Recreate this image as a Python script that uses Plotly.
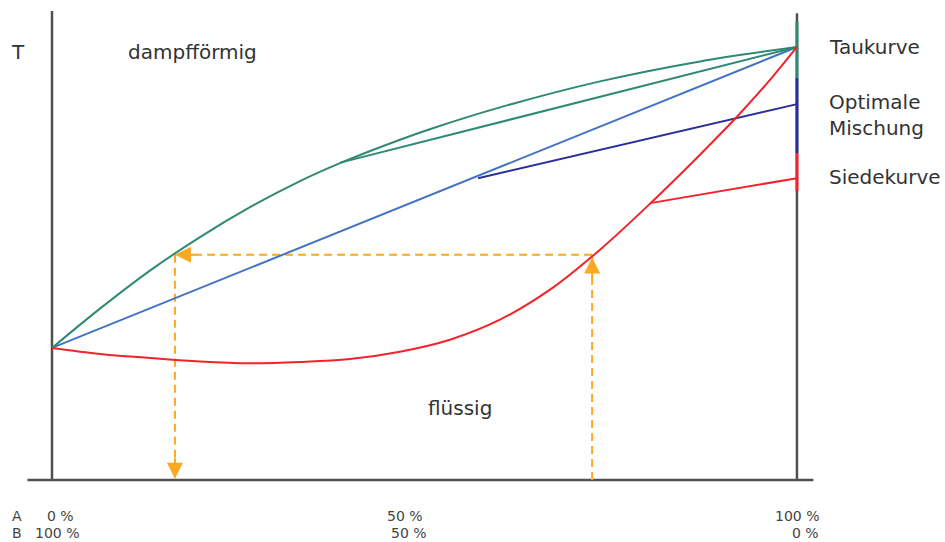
import plotly.graph_objects as go

# composition of A in % (x) and temperature in arbitrary units (T)
dew_x = [0, 6.44, 13.15, 19.87, 26.58, 33.29, 38.66, 46.71, 51.41, 60.13, 73.56, 86.98, 100]
dew_T = [30.5, 39.58, 48.36, 56.1, 63.0, 69.03, 73.18, 78.59, 81.41, 86.05, 92.06, 96.67, 100]

boil_x = [0, 6.44, 13.15, 19.87, 26.58, 33.29, 40.0, 46.71, 53.42, 60.13, 66.85, 73.56,
          80.27, 86.98, 92.35, 96.38, 100]
boil_T = [30.48, 29.1, 28.18, 27.37, 26.95, 27.25, 27.94, 29.63, 32.4, 37.02, 43.95, 53.19,
          63.81, 75.13, 84.64, 92.4, 100]

blue_x = [0, 100]
blue_T = [30.5, 100]

dew_line_x = [38.7, 100]
dew_line_T = [73.3, 100]

opt_x = [57.2, 100]
opt_T = [69.7, 86.8]

boil_line_x = [80.5, 100]
boil_line_T = [64.0, 69.7]

# orange construction
x_liquid = 72.5
x_vapor = 16.5
T_level = 52.0

# coloured range marks on the right axis (T from, T to)
dew_range = [105.8, 92.8]
opt_range = [92.8, 75.5]
boil_range = [75.5, 66.7]

row_labels = ["A", "B"]
bottom_A = ["0 %", "50 %", "100 %"]
bottom_B = ["100 %", "50 %", "0 %"]

TEAL = "#2f8a73"
BLUE = "#4473c5"
DBLUE = "#2a2f98"
RED = "#f2232b"
ORANGE = "#fba823"
GREY = "#505050"

fig = go.Figure()

# axes
axis_line = dict(color=GREY, width=2.5)
fig.add_shape(type="line", x0=0, x1=0, y0=0, y1=108.3, line=axis_line, layer="below")
fig.add_shape(type="line", x0=100, x1=100, y0=0, y1=107.8, line=axis_line, layer="below")
fig.add_shape(type="line", x0=-3.3, x1=102.2, y0=0, y1=0, line=axis_line, layer="below")

# coloured marks on the right axis
for rng, col in [(dew_range, TEAL), (opt_range, DBLUE), (boil_range, RED)]:
    fig.add_trace(go.Scatter(x=[100, 100], y=rng, mode="lines",
                             line=dict(color=col, width=3), hoverinfo="skip"))

# orange dashed construction
dash = dict(color=ORANGE, width=2, dash="8px,5px")
fig.add_trace(go.Scatter(x=[x_liquid, x_vapor], y=[T_level, T_level], mode="lines",
                         line=dash, hoverinfo="skip"))
fig.add_trace(go.Scatter(x=[x_vapor, x_vapor], y=[T_level, 0.5], mode="lines",
                         line=dash, hoverinfo="skip"))
fig.add_trace(go.Scatter(x=[x_liquid, x_liquid], y=[0, T_level], mode="lines",
                         line=dash, hoverinfo="skip"))

# straight lines
fig.add_trace(go.Scatter(x=blue_x, y=blue_T, mode="lines", line=dict(color=BLUE, width=2)))
fig.add_trace(go.Scatter(x=dew_line_x, y=dew_line_T, mode="lines", line=dict(color=TEAL, width=2)))
fig.add_trace(go.Scatter(x=opt_x, y=opt_T, mode="lines", line=dict(color=DBLUE, width=2)))
fig.add_trace(go.Scatter(x=boil_line_x, y=boil_line_T, mode="lines", line=dict(color=RED, width=2)))

# curves
fig.add_trace(go.Scatter(x=dew_x, y=dew_T, mode="lines",
                         line=dict(color=TEAL, width=2, shape="spline", smoothing=1)))
fig.add_trace(go.Scatter(x=boil_x, y=boil_T, mode="lines",
                         line=dict(color=RED, width=2, shape="spline", smoothing=1)))

# arrowheads
arrow = dict(text="", showarrow=True, arrowhead=2, arrowsize=1.6, arrowwidth=2,
             arrowcolor=ORANGE, standoff=0)
fig.add_annotation(x=x_vapor, y=T_level, ax=22, ay=0, **arrow)
fig.add_annotation(x=x_vapor, y=0.3, ax=0, ay=-22, **arrow)
fig.add_annotation(x=x_liquid, y=T_level - 0.6, ax=0, ay=22, **arrow)

# labels
big = dict(family="DejaVu Sans", size=20, color="#333333")
fig.add_annotation(x=-4.6, y=98.8, text="T", showarrow=False, font=big)
fig.add_annotation(x=18.9, y=98.8, text="dampfförmig", showarrow=False, font=big)
fig.add_annotation(x=54.8, y=16.6, text="flüssig", showarrow=False, font=big)
xr = 104.0
fig.add_annotation(x=xr, y=100, text="Taukurve", showarrow=False, xanchor="left", font=big)
fig.add_annotation(x=xr, y=84.2, text="Optimale<br>Mischung", showarrow=False, xanchor="left",
                   align="left", font=big)
fig.add_annotation(x=xr, y=70, text="Siedekurve", showarrow=False, xanchor="left", font=big)

small = dict(family="DejaVu Sans", size=14, color="#444444")
yA, yB = -8.4, -12.3
fig.add_annotation(x=-5.64, y=yA, text=row_labels[0], showarrow=False, xanchor="left", font=small)
fig.add_annotation(x=-5.64, y=yB, text=row_labels[1], showarrow=False, xanchor="left", font=small)
fig.add_annotation(x=3.22, y=yA, text=bottom_A[0], showarrow=False, xanchor="right", font=small)
fig.add_annotation(x=3.89, y=yB, text=bottom_B[0], showarrow=False, xanchor="right", font=small)
fig.add_annotation(x=47.4, y=yA, text=bottom_A[1], showarrow=False, font=small)
fig.add_annotation(x=47.9, y=yB, text=bottom_B[1], showarrow=False, font=small)
fig.add_annotation(x=103.2, y=yA, text=bottom_A[2], showarrow=False, xanchor="right", font=small)
fig.add_annotation(x=103.2, y=yB, text=bottom_B[2], showarrow=False, xanchor="right", font=small)

fig.update_layout(
    width=945, height=542,
    margin=dict(l=0, r=0, t=0, b=0),
    paper_bgcolor="white", plot_bgcolor="white",
    showlegend=False,
    xaxis=dict(range=[-6.98, 119.87], visible=False, fixedrange=True),
    yaxis=dict(range=[-14.32, 110.85], visible=False, fixedrange=True),
)

fig.write_html("out.html", config={"displayModeBar": False},
               post_script="document.body.style.margin='0';document.body.style.overflow='hidden';")
